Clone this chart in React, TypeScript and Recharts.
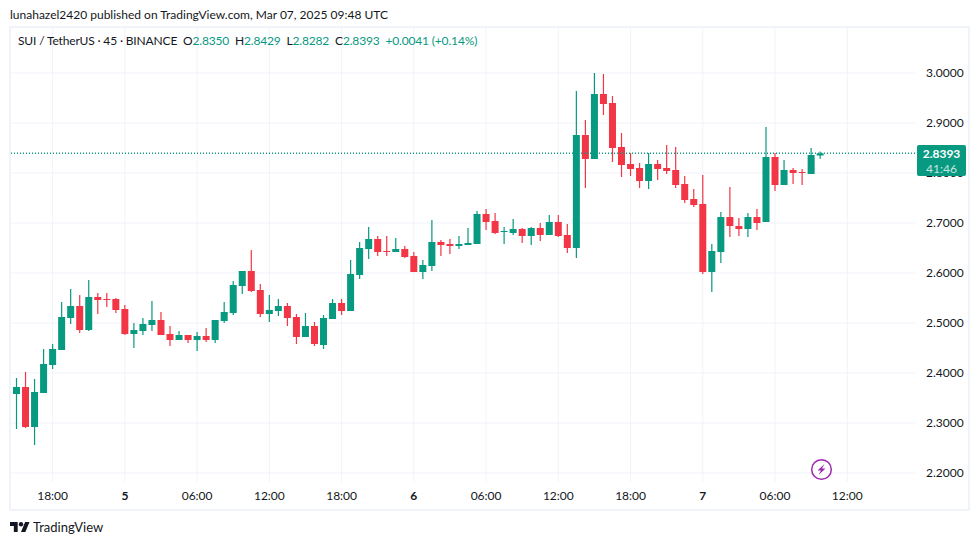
import { Bar, CartesianGrid, ComposedChart, ReferenceLine, XAxis, YAxis } from 'recharts'

const UP = '#089981'
const DOWN = '#F23645'
const GRID = '#f0f3fa'
const TEXT = '#131722'
const FONT = 'Lato, sans-serif'

const opens = [
  2.358, 2.372, 2.292, 2.36, 2.416, 2.446, 2.51, 2.534, 2.486, 2.552,
  2.548, 2.548, 2.528, 2.478, 2.484, 2.496, 2.506, 2.478, 2.466, 2.476,
  2.466, 2.474, 2.466, 2.504, 2.52, 2.574, 2.604, 2.566, 2.518, 2.524,
  2.534, 2.512, 2.472, 2.494, 2.456, 2.508, 2.54, 2.524, 2.596, 2.648,
  2.668, 2.644, 2.642, 2.648, 2.634, 2.602, 2.614, 2.662, 2.658, 2.654,
  2.656, 2.658, 2.718, 2.704, 2.682, 2.68, 2.688, 2.674, 2.69, 2.676,
  2.702, 2.676, 2.65, 2.876, 2.828, 2.958, 2.94, 2.852, 2.818, 2.81,
  2.784, 2.818, 2.81, 2.806, 2.778, 2.748, 2.738, 2.602, 2.642, 2.712,
  2.694, 2.688, 2.712, 2.702, 2.832, 2.776, 2.806, 2.802, 2.798, 2.835,
]
const closes = [
  2.372, 2.292, 2.362, 2.418, 2.448, 2.512, 2.534, 2.486, 2.552, 2.546,
  2.546, 2.526, 2.478, 2.486, 2.498, 2.506, 2.476, 2.466, 2.476, 2.466,
  2.474, 2.466, 2.506, 2.522, 2.576, 2.604, 2.564, 2.518, 2.526, 2.534,
  2.51, 2.472, 2.494, 2.458, 2.51, 2.54, 2.524, 2.598, 2.65, 2.668,
  2.642, 2.642, 2.648, 2.632, 2.602, 2.616, 2.662, 2.656, 2.654, 2.658,
  2.66, 2.718, 2.702, 2.68, 2.684, 2.688, 2.674, 2.69, 2.676, 2.702,
  2.674, 2.65, 2.876, 2.828, 2.958, 2.938, 2.85, 2.816, 2.808, 2.784,
  2.818, 2.808, 2.804, 2.776, 2.746, 2.736, 2.602, 2.644, 2.712, 2.694,
  2.688, 2.712, 2.7, 2.832, 2.776, 2.806, 2.8, 2.8, 2.836, 2.8393,
]
const highs = [
  2.39, 2.402, 2.388, 2.448, 2.458, 2.542, 2.568, 2.556, 2.586, 2.56,
  2.56, 2.55, 2.536, 2.5, 2.51, 2.544, 2.522, 2.494, 2.484, 2.476,
  2.482, 2.49, 2.506, 2.542, 2.584, 2.604, 2.646, 2.578, 2.556, 2.548,
  2.54, 2.518, 2.52, 2.502, 2.516, 2.548, 2.548, 2.626, 2.662, 2.692,
  2.674, 2.674, 2.67, 2.654, 2.642, 2.626, 2.706, 2.666, 2.668, 2.674,
  2.69, 2.724, 2.728, 2.72, 2.692, 2.708, 2.69, 2.692, 2.7, 2.716,
  2.716, 2.698, 2.964, 2.906, 3.0, 2.998, 2.954, 2.88, 2.84, 2.82,
  2.84, 2.826, 2.856, 2.852, 2.794, 2.768, 2.796, 2.658, 2.722, 2.772,
  2.71, 2.72, 2.728, 2.892, 2.84, 2.826, 2.81, 2.808, 2.85, 2.8429,
]
const lows = [
  2.288, 2.29, 2.256, 2.36, 2.408, 2.446, 2.498, 2.48, 2.484, 2.518,
  2.532, 2.52, 2.476, 2.45, 2.476, 2.484, 2.476, 2.454, 2.466, 2.46,
  2.444, 2.462, 2.46, 2.5, 2.516, 2.558, 2.562, 2.512, 2.502, 2.514,
  2.494, 2.458, 2.472, 2.454, 2.448, 2.508, 2.516, 2.524, 2.588, 2.628,
  2.634, 2.634, 2.642, 2.63, 2.602, 2.588, 2.604, 2.634, 2.638, 2.648,
  2.656, 2.658, 2.686, 2.678, 2.658, 2.676, 2.66, 2.656, 2.664, 2.676,
  2.672, 2.64, 2.63, 2.77, 2.828, 2.916, 2.822, 2.792, 2.794, 2.77,
  2.768, 2.786, 2.798, 2.77, 2.74, 2.732, 2.598, 2.562, 2.62, 2.672,
  2.674, 2.672, 2.686, 2.702, 2.764, 2.776, 2.778, 2.776, 2.798, 2.8282,
]

const priceTicks = [2.2, 2.3, 2.4, 2.5, 2.6, 2.7, 2.8, 2.9, 3.0]
const timeSlots = [4, 12, 20, 28, 36, 44, 52, 60, 68, 76, 84, 92]
const timeLabels = ['18:00', '5', '06:00', '12:00', '18:00', '6', '06:00', '12:00', '18:00', '7', '06:00', '12:00']
const lastPrice = 2.8393
const slotCount = 100 // empty room to the right of the last bar

const data = Array.from({ length: slotCount }, (_, i) =>
  i < opens.length
    ? { slot: i, open: opens[i], close: closes[i], high: highs[i], low: lows[i], range: [lows[i], highs[i]] }
    : { slot: i },
)

function Candle(props: any) {
  const { x, y, width, height, payload } = props
  if (!payload || payload.open === undefined) return null
  const { open, close, high, low } = payload
  const perUnit = height / (high - low)
  const top = y + (high - Math.max(open, close)) * perUnit
  const bodyH = Math.max(Math.abs(close - open) * perUnit, 1)
  const color = close >= open ? UP : DOWN
  return (
    <g>
      <rect x={x + width / 2 - 0.6} y={y} width={1.2} height={height} fill={color} />
      <rect x={x} y={top} width={width} height={bodyH} fill={color} />
    </g>
  )
}

function TimeTick(props: any) {
  const { x, y, payload } = props
  const label = timeLabels[timeSlots.indexOf(payload.value)]
  const isDay = label.length === 1
  return (
    <text x={x} y={y + 7} textAnchor="middle" dominantBaseline="central" fontSize={12} fontWeight={isDay ? 700 : 400} fill={TEXT} fontFamily={FONT}>
      {label}
    </text>
  )
}

function Legend() {
  const val = { color: UP }
  return (
    <div style={{ position: 'absolute', left: 18, top: 33, fontSize: 12, letterSpacing: -0.16, color: TEXT, whiteSpace: 'pre', lineHeight: '16px' }}>
      SUI / TetherUS · 45 · BINANCE{'  '}O<span style={val}>2.8350</span>{'  '}H<span style={val}>2.8429</span>{'  '}L<span style={val}>2.8282</span>{'  '}C<span style={val}>2.8393</span>{'  '}<span style={val}>+0.0041 (+0.14%)</span>
    </div>
  )
}

export default function App() {
  return (
    <div style={{ position: 'absolute', left: 0, top: 0, width: 980, height: 545, background: '#fff', fontFamily: FONT, overflow: 'hidden' }}>
      <div style={{ position: 'absolute', left: 10, top: 7, fontSize: 12, color: TEXT, lineHeight: '16px', whiteSpace: 'pre' }}>
        lunahazel2420 published on TradingView.com, Mar 07, 2025 09:48 UTC
      </div>

      {/* chart frame */}
      <div style={{ position: 'absolute', left: 9, top: 26, width: 961, height: 485, border: `2px solid ${GRID}`, boxSizing: 'border-box' }} />

      <div style={{ position: 'absolute', left: 0, top: 0 }}>
        <ComposedChart width={980} height={545} data={data} margin={{ top: 27, right: 10, bottom: 35, left: 10 }} barCategoryGap={0}>
          <CartesianGrid stroke={GRID} strokeWidth={1} horizontalValues={priceTicks} verticalValues={timeSlots} />
          <XAxis
            dataKey="slot"
            type="category"
            ticks={timeSlots}
            interval={0}
            tick={<TimeTick />}
            tickLine={false}
            axisLine={false}
            height={28}
            tickMargin={0}
            padding={{ left: 2, right: 0 }}
          />
          <YAxis
            orientation="right"
            type="number"
            domain={[2.182, 3.092]}
            ticks={priceTicks}
            tickFormatter={(v: number) => v.toFixed(4)}
            tick={{ fontSize: 12, fill: TEXT, fontFamily: FONT }}
            tickLine={false}
            axisLine={false}
            width={55}
            tickMargin={5}
          />
          <Bar dataKey="range" barSize={7} shape={<Candle />} isAnimationActive={false} />
          <ReferenceLine y={lastPrice} stroke={UP} strokeWidth={1.5} strokeDasharray="1 2" />
        </ComposedChart>
      </div>

      <Legend />

      {/* last price tag */}
      <div style={{ position: 'absolute', left: 917, top: 145, width: 49, height: 31, background: UP, borderRadius: 2, color: '#fff', fontSize: 12, lineHeight: '15px', textAlign: 'center', paddingTop: 1, boxSizing: 'border-box' }}>
        <div style={{ fontWeight: 700 }}>2.8393</div>
        <div style={{ opacity: 0.75 }}>41:46</div>
      </div>

      {/* bolt badge */}
      <svg style={{ position: 'absolute', left: 810, top: 458 }} width={23} height={23} viewBox="0 0 23 23">
        <circle cx={11.5} cy={11.5} r={9.8} fill="#fff" stroke="#9c27b0" strokeWidth={1.5} />
        <path d="M14.5 6 L7.5 12.5 H11 L8.5 17 L15.5 10.5 H12 Z" fill="#9c27b0" />
      </svg>

      {/* TradingView mark */}
      <svg style={{ position: 'absolute', left: 10, top: 522 }} width={19.5} height={10} viewBox="0 4 35.5 18">
        <path d="M14 22H7V11H0V4h14v18zM28 22h-8l7.5-18h8L28 22z" fill={TEXT} />
        <circle cx={20} cy={8} r={4} fill={TEXT} />
      </svg>
      <div style={{ position: 'absolute', left: 33, top: 519, fontSize: 13, color: TEXT, lineHeight: '16px' }}>TradingView</div>
    </div>
  )
}
